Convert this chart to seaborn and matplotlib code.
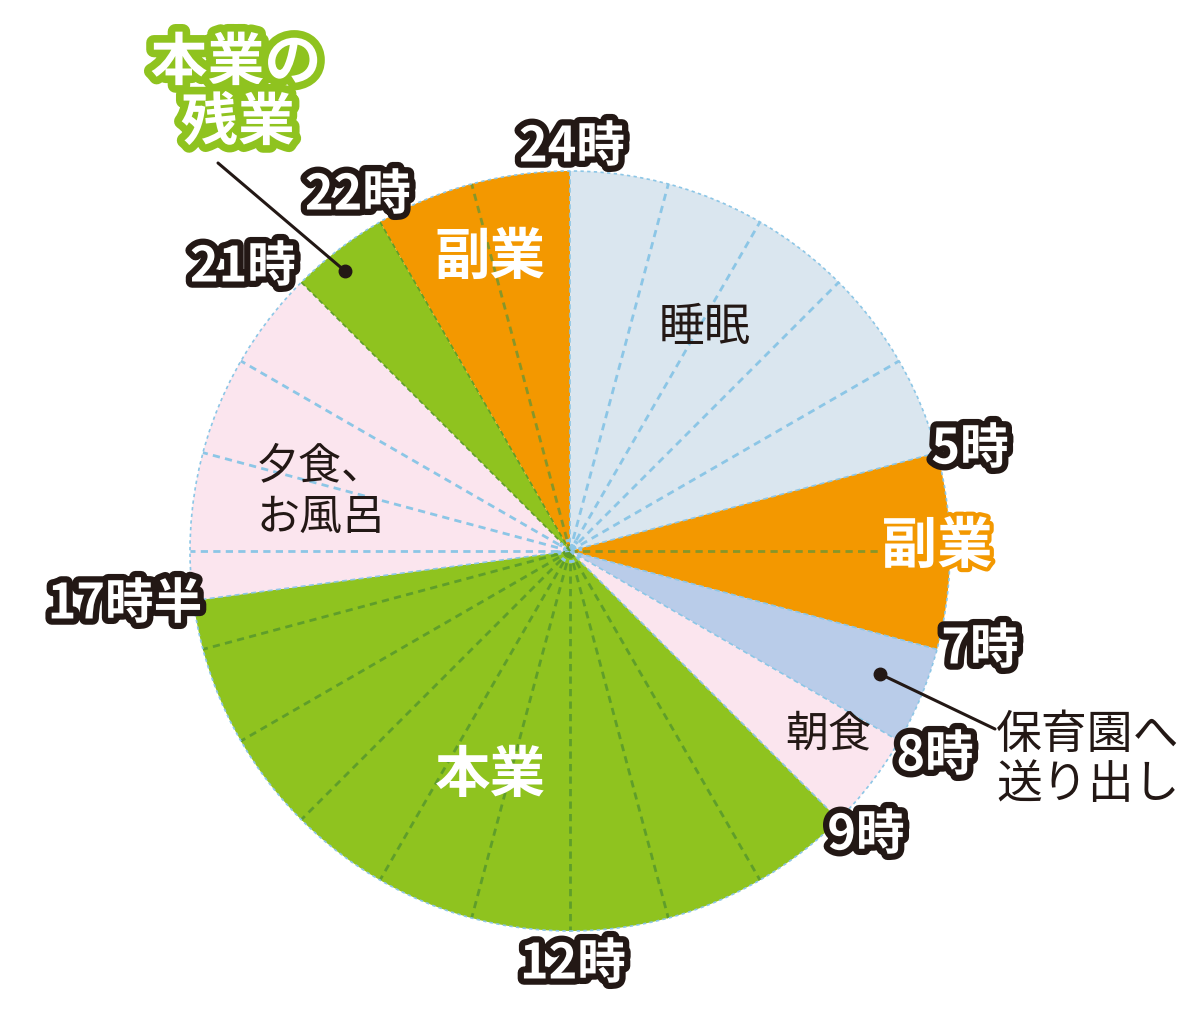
import numpy as np
import matplotlib
matplotlib.use("Agg")
import matplotlib.pyplot as plt
import matplotlib.patheffects as pe
from matplotlib.patches import Circle
import seaborn as sns

sns.set_theme(style="white")
plt.rcParams['font.family'] = ['Noto Sans CJK JP', 'DejaVu Sans']

# ---- data ----
segments = ['睡眠', '副業', '保育園へ送り出し', '朝食', '本業', '夕食、お風呂', '本業の残業', '副業']
durations = [5, 2, 1, 1, 8.5, 3.5, 1, 2]          # hours (24h clock, from 0時)
seg_colors = ['#dae6ef', '#f39800', '#b9cce9', '#fbe5ee', '#8fc31f', '#fbe5ee', '#8fc31f', '#f39800']

# hour divider lines inside segments
sleep_hours = [1, 2, 3, 4]
side_am_hours = [6]
work_hours = [10, 11, 12, 13, 14, 15, 16, 17]
dinner_hours = [18, 19, 20]
side_pm_hours = [23]

# clock labels
clock_labels = ['24時', '5時', '7時', '8時', '9時', '12時', '17時半', '21時', '22時']
clock_pos = [(572, 148), (970, 450), (980, 650), (935, 757), (866, 836),
             (573, 965), (125, 605), (243, 268), (358, 196)]

W, H = 1200, 1012
CX, CY, R = 570, 552, 380

fig = plt.figure(figsize=(W / 100, H / 100), dpi=100)
ax = fig.add_axes([0, 0, 1, 1])


def px(x, y):
    return (x - CX) / R, (CY - y) / R


def hour_xy(h, r=1.0):
    a = np.deg2rad(90 - h * 15)
    return r * np.cos(a), r * np.sin(a)


ax.pie(durations, colors=seg_colors, startangle=90, counterclock=False, radius=1,
       wedgeprops=dict(linewidth=0))

ax.set_xlim(-CX / R, (W - CX) / R)
ax.set_ylim(-(H - CY) / R, CY / R)
ax.set_aspect('equal')
ax.axis('off')

blue_dash = '#8cc6e6'
green_dash = '#5f9e2a'
olive_dash = '#86962a'


def radial(h, color, lw=2.0, dash=(2.6, 1.9)):
    x, y = hour_xy(h)
    ax.plot([0, x], [0, y], color=color, lw=lw, ls=(0, dash), zorder=3)


for h in sleep_hours + dinner_hours:
    radial(h, blue_dash)
for h in work_hours:
    radial(h, green_dash)
for h in side_am_hours + side_pm_hours:
    radial(h, olive_dash)

# segment boundaries
bounds = np.cumsum([0] + durations[:-1])
for b in bounds:
    col = green_dash if b in (21, 22) else blue_dash
    radial(b, col, lw=1.2, dash=(3, 2))

# outer dotted edge and center ring
ax.add_patch(Circle((0, 0), 1.0, fill=False, ec=blue_dash, lw=1.2, ls=(0, (2, 2)), zorder=3))
ax.add_patch(Circle((0, 0), 0.028, fill=False, ec='#8cc6e6', lw=2.2, ls=(0, (1.5, 1.2)), zorder=4))

dark = '#231815'

# clock labels
for lab, (x, y) in zip(clock_labels, clock_pos):
    ax.text(*px(x, y), lab, fontsize=35, fontweight='bold', color='white',
            ha='center', va='center', zorder=6,
            path_effects=[pe.withStroke(linewidth=9, foreground=dark)])

# segment labels
ax.text(*px(705, 328), '睡眠', fontsize=33, color=dark, ha='center', va='center', zorder=5)
ax.text(*px(490, 258), '副業', fontsize=40, fontweight='bold', color='white', ha='center', va='center', zorder=5)
ax.text(*px(937, 548), '副業', fontsize=40, fontweight='bold', color='white', ha='center', va='center', zorder=5,
        path_effects=[pe.withStroke(linewidth=6, foreground='#f39800')])
ax.text(*px(490, 776), '本業', fontsize=40, fontweight='bold', color='white', ha='center', va='center', zorder=5)
ax.text(*px(256, 466), '夕食、', fontsize=31, color=dark, ha='left', va='center', zorder=5)
ax.text(*px(256, 518), 'お風呂', fontsize=31, color=dark, ha='left', va='center', zorder=5)
ax.text(*px(828, 734), '朝食', fontsize=31, color=dark, ha='center', va='center', zorder=5)
ax.text(*px(996, 735), '保育園へ', fontsize=33, color=dark, ha='left', va='center', zorder=5)
ax.text(*px(996, 785), '送り出し', fontsize=33, color=dark, ha='left', va='center', zorder=5)

# 本業の残業 callout
for txt, (x, y) in [('本業の', (236, 64)), ('残業', (238, 124))]:
    ax.text(*px(x, y), txt, fontsize=41, fontweight='bold', color='white', ha='center', va='center', zorder=6,
            path_effects=[pe.withStroke(linewidth=11, foreground='#8fc31f')])

# pointer lines
for (x0, y0), (x1, y1) in [((218, 164), (345, 272)), ((880, 675), (995, 730))]:
    a, b = px(x0, y0)
    c, d = px(x1, y1)
    ax.plot([a, c], [b, d], color=dark, lw=2.2, zorder=6)
for (x, y) in [(345, 272), (880, 675)]:
    ax.plot(*px(x, y), 'o', color=dark, ms=9, zorder=7)

fig.savefig('out.png', dpi=100, facecolor='white')
